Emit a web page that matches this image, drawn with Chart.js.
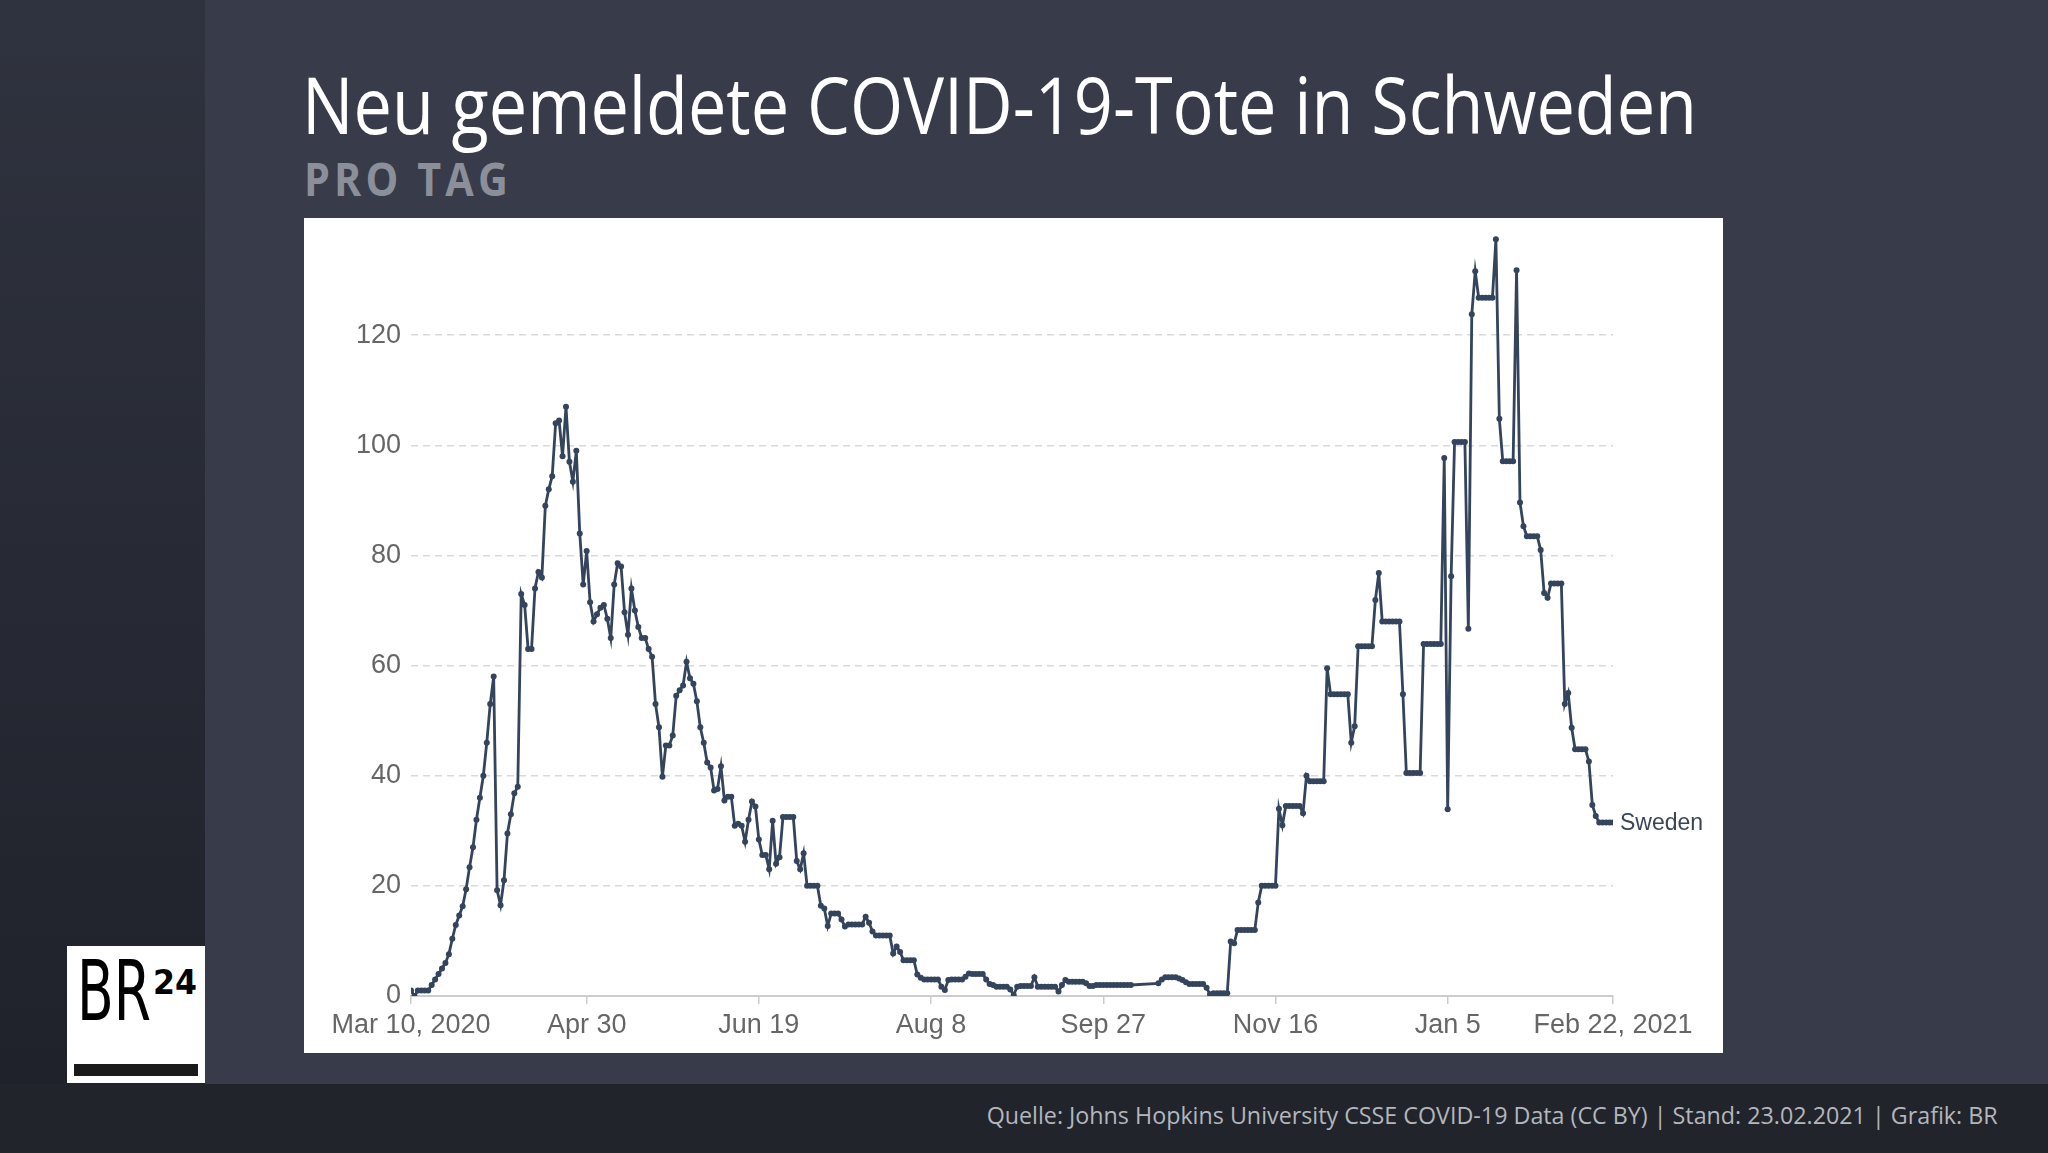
<!DOCTYPE html>
<html>
<head>
<meta charset="utf-8">
<title>Neu gemeldete COVID-19-Tote in Schweden</title>
<script src="https://cdn.jsdelivr.net/npm/chart.js@4.4.0/dist/chart.umd.min.js"></script>
<style>
    html, body { margin: 0; padding: 0; }
    body {
        width: 2048px; height: 1153px; position: relative; overflow: hidden;
        background: #383c4a; font-family: 'Open Sans', sans-serif;
    }
    #side {
        position: absolute; left: 0; top: 0; width: 205px; height: 1084px;
        background: linear-gradient(180deg, #2f333f 0%, #262933 60%, #1f222a 100%);
    }
    #footer {
        position: absolute; left: 0; top: 1084px; width: 2048px; height: 69px;
        background: #21242b;
    }
    .txt { position: absolute; white-space: nowrap; line-height: 1; }
    #title { left: 302px; top: 65px; font-size: 78px; color: #fff; font-weight: 400; }
    #subtitle { left: 304px; top: 155px; font-size: 46px; color: #8b8f99; font-weight: 700; letter-spacing: 0.1em; }
    #source { right: 50px; top: 1103px; font-size: 24px; color: #b3b6bd; }
    #panel { position: absolute; left: 304px; top: 218px; width: 1419px; height: 835px; background: #fff; }
    #logo { position: absolute; left: 67px; top: 946px; width: 138px; height: 137px; background: #fff; }
    #logo .br { position: absolute; left: 10px; top: 3px; font-family: 'Liberation Sans Narrow', 'DejaVu Sans Condensed', sans-serif; font-weight: 400; font-size: 84px; color: #000; line-height: 1; }
    #logo .num { position: absolute; left: 86px; top: 20px; font-family: 'Liberation Sans Narrow', 'DejaVu Sans Condensed', sans-serif; font-weight: 700; font-size: 33px; color: #000; line-height: 1; }
    #logo .bar { position: absolute; left: 7px; top: 118px; width: 124px; height: 12px; background: #1a1a1a; }
</style>
</head>
<body>
<div id="side"></div>
<div id="footer"></div>
<div id="title" class="txt" data-w="1395">Neu gemeldete COVID-19-Tote in Schweden</div>
<div id="subtitle" class="txt" data-w="208">PRO TAG</div>
<div id="panel"><canvas id="chart" width="1419" height="835"></canvas></div>
<div id="logo">
    <div class="br txt" data-w="74">BR</div>
    <div class="num txt" data-w="44">24</div>
    <div class="bar"></div>
</div>
<div id="source" class="txt" data-w="1011" data-origin="right">Quelle: Johns Hopkins University CSSE COVID-19 Data (CC BY) | Stand: 23.02.2021 | Grafik: BR</div>

<script>
// Data: daily new deaths, one value per day starting Mar 10, 2020
const seriesName = 'Sweden';
const deaths = [
    1, 0, 1, 1, 1, 1, 2, 3, 4, 5,
    6, 7.6, 10.4, 12.9, 14.6, 16.3, 19.4, 23.4, 27, 32,
    36, 40, 46, 53, 58, 19.2, 16.5, 21, 29.5, 33,
    36.8, 38, 73, 71, 63, 63, 74, 77, 76, 89,
    92, 94.4, 104, 104.5, 98, 107, 97, 93.4, 99, 84,
    74.7, 80.8, 71.5, 68, 69.3, 70.5, 71, 68.5, 65, 74.7,
    78.6, 78, 69.7, 65.6, 74, 70, 67, 65, 65, 63,
    61.6, 53, 48.8, 39.8, 45.5, 45.5, 47.3, 54.5, 55.5, 56.4,
    60.7, 57.7, 56.7, 53.5, 48.8, 46, 42.4, 41.5, 37.3, 37.6,
    41.7, 35.5, 36.2, 36.2, 30.9, 31.3, 30.9, 28, 32, 35.3,
    34.4, 28.4, 25.6, 25.6, 23, 31.8, 24, 25.2, 32.5, 32.5,
    32.5, 32.5, 24.5, 23, 25.9, 20, 20, 20, 20, 16.4,
    15.9, 12.7, 15, 15, 15, 13.9, 12.6, 13, 13, 13,
    13, 13, 14.4, 13.3, 11.7, 11, 11, 11, 11, 11,
    7.7, 9, 8, 6.5, 6.5, 6.5, 6.5, 3.9, 3.3, 3,
    3, 3, 3, 3, 1.7, 1.1, 2.9, 3, 3, 3,
    3, 3.5, 4.1, 4, 4, 4, 4, 3, 2.2, 2,
    1.7, 1.7, 1.7, 1.7, 1.2, 0.2, 1.7, 1.8, 1.8, 1.8,
    1.8, 3.4, 1.7, 1.7, 1.7, 1.7, 1.7, 1.7, 0.8, 2,
    2.9, 2.6, 2.6, 2.6, 2.6, 2.6, 2.3, 1.8, 1.8, 2,
    2, 2, 2, 2, 2, 2, 2, 2, 2, 2,
    null, null, null, null, null, null, null, 2.3, 3, 3.4,
    3.4, 3.4, 3.4, 3.2, 2.9, 2.5, 2.2, 2.2, 2.2, 2.2,
    2.2, 1.5, 0.3, 0.5, 0.5, 0.5, 0.5, 0.5, 9.9, 9.6,
    12, 12, 12, 12, 12, 12, 17, 20, 20, 20,
    20, 20, 34, 31, 34.5, 34.5, 34.5, 34.5, 34.5, 33.2,
    40, 39, 39, 39, 39, 39, 59.5, 54.8, 54.8, 54.8,
    54.8, 54.8, 54.8, 46, 49, 63.5, 63.5, 63.5, 63.5, 63.5,
    71.9, 76.8, 68, 68, 68, 68, 68, 68, 54.8, 40.5,
    40.5, 40.5, 40.5, 40.5, 63.9, 63.9, 63.9, 63.9, 63.9, 63.9,
    97.7, 33.9, 76.2, 100.6, 100.6, 100.6, 100.6, 66.7, 123.8, 131.6,
    126.8, 126.8, 126.8, 126.8, 126.8, 137.4, 104.8, 97.1, 97.1, 97.1,
    97.1, 131.8, 89.6, 85.3, 83.5, 83.5, 83.5, 83.5, 81, 73.2,
    72.3, 74.9, 74.9, 74.9, 74.9, 53, 55, 48.7, 44.8, 44.8,
    44.8, 44.8, 42.6, 34.7, 32.7, 31.5, 31.5, 31.5, 31.5, 31.5
];

// Axis ticks (x = days since Mar 10, 2020)
const tickDays = [0, 51, 101, 151, 201, 251, 301, 349];
const tickLabels = ['Mar 10, 2020', 'Apr 30', 'Jun 19', 'Aug 8', 'Sep 27', 'Nov 16', 'Jan 5', 'Feb 22, 2021'];
const yTicks = [0, 20, 40, 60, 80, 100, 120];

const lineColor = '#33445c';
const axisFont = { family: "'Liberation Sans', Arial, sans-serif", size: 27 };

// Country name next to the last point
const endLabel = {
    id: 'endLabel',
    afterDatasetsDraw(chart) {
        const pts = chart.getDatasetMeta(0).data;
        const last = pts[pts.length - 1];
        const c = chart.ctx;
        c.save();
        c.font = "23px 'Liberation Sans', Arial, sans-serif";
        c.fillStyle = '#3a4658';
        c.textBaseline = 'middle';
        c.fillText(chart.data.datasets[0].label, last.x + 7, last.y + 1);
        c.restore();
    }
};

function fitTexts() {
    document.querySelectorAll('[data-w]').forEach(el => {
        el.style.transform = 'none';
        const w = el.getBoundingClientRect().width;
        el.style.transformOrigin = el.dataset.origin === 'right' ? 'right top' : 'left top';
        el.style.transform = `scaleX(${el.dataset.w / w})`;
    });
}

function drawChart() {
    const ctx = document.getElementById('chart');
    new Chart(ctx, {
        type: 'line',
        data: {
            datasets: [{
                label: seriesName,
                data: deaths.map((v, i) => ({ x: i, y: v })),
                borderColor: lineColor,
                backgroundColor: lineColor,
                borderWidth: 2.8,
                pointRadius: 3,
                pointHoverRadius: 3,
                pointBorderWidth: 0,
                tension: 0,
                spanGaps: true
            }]
        },
        options: {
            responsive: false,
            animation: false,
            devicePixelRatio: 1,
            layout: { padding: { top: 7, right: 110, bottom: 0, left: 0 } },
            plugins: {
                legend: { display: false },
                tooltip: { enabled: false }
            },
            scales: {
                x: {
                    type: 'linear',
                    min: 0,
                    max: 349,
                    afterBuildTicks: s => { s.ticks = tickDays.map(v => ({ value: v })); },
                    afterFit: s => { s.height = 57; },
                    ticks: {
                        callback: (v, i) => tickLabels[i],
                        font: axisFont,
                        color: '#666',
                        padding: 5,
                        maxRotation: 0,
                        autoSkip: false
                    },
                    grid: { drawOnChartArea: false, drawTicks: true, tickLength: 8, color: '#ccc', lineWidth: 1.5 },
                    border: { display: true, color: '#ccc', width: 2 }
                },
                y: {
                    min: 0,
                    max: 140,
                    afterBuildTicks: s => { s.ticks = yTicks.map(v => ({ value: v })); },
                    afterFit: s => { s.width = 107; s.paddingTop = 0; s.paddingBottom = 0; },
                    ticks: { font: axisFont, color: '#666', padding: 10 },
                    grid: { drawTicks: false, color: '#d9d9d9', lineWidth: 1.5 },
                    border: { display: false, dash: [7, 5] }
                }
            }
        },
        plugins: [endLabel]
    });
}

document.fonts.ready.then(() => {
    fitTexts();
    drawChart();
});
</script>
</body>
</html>
